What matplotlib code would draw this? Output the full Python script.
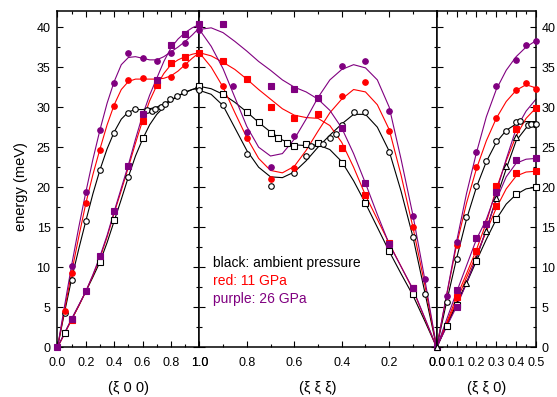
import matplotlib
matplotlib.use('Agg')
import matplotlib.pyplot as plt
from matplotlib.ticker import MultipleLocator, FormatStrFormatter

plt.rcParams['font.family'] = ['Liberation Sans', 'DejaVu Sans']

# colours for the three pressures
c_black = 'black'
c_red = '#ff0000'
c_purple = '#800080'

# ---------- (xi 0 0) ----------
grid_100 = [0.0, 0.05, 0.1, 0.15, 0.2, 0.25, 0.3, 0.35, 0.4, 0.45, 0.5,
            0.55, 0.6, 0.65, 0.7, 0.75, 0.8, 0.85, 0.9, 0.95, 1.0]
h00_blk_up = [0, 4.4, 8.6, 12.3, 15.8, 19.2, 22.2, 24.8, 26.9, 28.5, 29.4,
              29.7, 29.7, 29.8, 30.0, 30.4, 30.9, 31.4, 31.8, 32.2, 32.5]
h00_blk_lo = [0, 1.8, 3.5, 5.2, 7.0, 8.8, 10.7, 13.1, 15.8, 18.5, 21.3,
              23.9, 26.0, 27.8, 29.1, 30.0, 30.8, 31.4, 31.9, 32.2, 32.4]
h00_red_up = [0, 4.7, 9.4, 13.8, 18.0, 21.6, 24.8, 27.8, 30.3, 32.2, 33.2,
              33.5, 33.5, 33.5, 33.5, 33.6, 33.9, 34.5, 35.3, 36.1, 36.8]
h00_red_lo = [0, 1.7, 3.5, 5.2, 7.0, 9.0, 11.2, 13.8, 16.8, 19.6, 22.5,
              25.5, 28.3, 30.8, 32.7, 34.2, 35.3, 35.9, 36.3, 36.6, 36.8]
h00_pur_up = [0, 5.2, 10.3, 15.0, 19.4, 23.5, 27.2, 30.5, 33.2, 35.3, 36.2,
              36.3, 36.1, 35.9, 35.9, 36.3, 36.9, 37.5, 38.2, 39.0, 39.9]
h00_pur_lo = [0, 1.8, 3.6, 5.3, 7.0, 9.1, 11.4, 14.0, 17.0, 19.9, 22.8,
              26.0, 29.0, 31.5, 33.6, 35.7, 37.4, 38.5, 39.3, 39.9, 40.3]

h00_blk_o_x = [0.05, 0.1, 0.2, 0.3, 0.4, 0.5, 0.5, 0.55, 0.63, 0.67, 0.69, 0.73, 0.76, 0.79, 0.84, 0.89, 0.99]
h00_blk_o_y = [4.3, 8.4, 15.8, 22.1, 26.8, 29.3, 21.3, 29.75, 29.6, 29.5, 29.8, 30.0, 30.4, 31.0, 31.4, 31.9, 32.4]
h00_blk_s_x = [0.05, 0.3, 0.4, 0.6]
h00_blk_s_y = [1.8, 10.7, 15.9, 26.2]
h00_red_o_x = [0.05, 0.1, 0.2, 0.3, 0.4, 0.5, 0.6, 0.8, 0.9, 1.0]
h00_red_o_y = [4.5, 9.3, 18.0, 24.7, 30.2, 33.4, 33.6, 33.7, 35.3, 36.8]
h00_red_s_x = [0.1, 0.6, 0.7, 0.8, 0.9]
h00_red_s_y = [3.4, 28.3, 32.8, 35.5, 36.2]
h00_pur_o_x = [0.1, 0.2, 0.3, 0.4, 0.5, 0.6, 0.7, 0.8, 0.9]
h00_pur_o_y = [10.2, 19.4, 27.2, 33.0, 36.7, 36.1, 35.8, 36.7, 38.0]
h00_pur_s_x = [0.0, 0.1, 0.2, 0.3, 0.4, 0.5, 0.6, 0.7, 0.8, 0.9, 1.0]
h00_pur_s_y = [0, 3.6, 7.0, 11.4, 17.0, 22.7, 29.2, 33.4, 37.8, 39.1, 40.4]

# ---------- (xi xi xi) ----------
grid_111 = grid_100
hhh_blk_a = [0, 3.3, 6.5, 9.2, 12.0, 15.0, 18.0, 20.8, 23.2, 24.7, 25.3,
             25.2, 25.3, 25.9, 26.9, 28.1, 29.4, 30.6, 31.6, 32.3, 32.6]
hhh_blk_b = [0, 6.9, 13.8, 19.5, 24.5, 27.5, 29.1, 29.1, 27.9, 26.5, 25.0,
             23.3, 21.9, 21.2, 21.3, 22.5, 24.6, 27.4, 30.2, 31.6, 32.1]
hhh_red_a = [0, 3.6, 7.2, 10.1, 13.0, 16.0, 19.0, 22.5, 25.6, 27.7, 28.6,
             28.7, 29.0, 29.8, 31.0, 32.2, 33.5, 34.7, 35.6, 36.4, 36.8]
hhh_red_b = [0, 7.8, 15.0, 21.5, 27.2, 30.3, 31.9, 32.2, 31.0, 29.3, 27.0,
             24.6, 22.6, 21.8, 22.1, 23.6, 26.2, 29.3, 32.5, 35.0, 36.8]
hhh_pur_a = [0, 3.7, 7.3, 10.1, 12.9, 16.6, 20.5, 24.2, 27.4, 29.6, 31.0,
             31.9, 32.5, 33.4, 34.6, 35.7, 37.0, 38.2, 39.3, 39.9, 39.7]
hhh_pur_b = [0, 8.5, 16.5, 23.5, 30.0, 33.4, 34.9, 35.3, 34.7, 33.4, 31.2,
             28.5, 26.0, 24.2, 23.9, 25.0, 27.6, 31.2, 34.8, 37.6, 39.7]

hhh_blk_s_x = [1.0, 0.9, 0.8, 0.75, 0.7, 0.67, 0.63, 0.6, 0.55, 0.5, 0.4, 0.3, 0.2, 0.1]
hhh_blk_s_y = [32.6, 31.6, 29.4, 28.1, 26.8, 26.2, 25.5, 25.2, 25.4, 25.5, 23.0, 18.0, 12.0, 6.7]
hhh_blk_o_x = [1.0, 0.9, 0.8, 0.7, 0.6, 0.55, 0.53, 0.48, 0.45, 0.425, 0.4, 0.35, 0.3, 0.2, 0.1, 0.05]
hhh_blk_o_y = [32.1, 30.3, 24.2, 20.2, 21.8, 23.9, 25.1, 25.4, 26.1, 26.6, 27.8, 29.4, 29.4, 24.4, 13.8, 6.7]
hhh_red_s_x = [1.0, 0.9, 0.8, 0.7, 0.6, 0.5, 0.4, 0.3, 0.2, 0.1]
hhh_red_s_y = [36.8, 35.8, 33.5, 30.0, 28.6, 29.2, 24.9, 19.0, 13.0, 7.4]
hhh_red_o_x = [0.9, 0.8, 0.7, 0.6, 0.4, 0.3, 0.2, 0.1]
hhh_red_o_y = [32.6, 26.2, 21.0, 22.4, 31.4, 33.2, 27.0, 15.1]
hhh_pur_s_x = [1.0, 0.9, 0.7, 0.6, 0.5, 0.4, 0.3, 0.2, 0.1, 0.0]
hhh_pur_s_y = [40.4, 40.4, 32.6, 32.3, 31.2, 27.4, 20.5, 12.9, 7.4, 0]
hhh_pur_o_x = [1.0, 0.86, 0.8, 0.7, 0.6, 0.4, 0.3, 0.2, 0.1, 0.05]
hhh_pur_o_y = [39.6, 32.7, 26.9, 22.5, 26.4, 35.1, 35.8, 29.5, 16.4, 8.5]

# ---------- (xi xi 0) ----------
grid_110 = [0.0, 0.05, 0.1, 0.15, 0.2, 0.25, 0.3, 0.35, 0.4, 0.45, 0.5]
hh0_blk_top = [0, 5.7, 11.1, 16.0, 20.0, 23.2, 25.6, 27.1, 27.9, 28.2, 28.2]
hh0_blk_mid = [0, 2.8, 5.4, 8.1, 11.2, 14.7, 18.6, 22.3, 25.8, 27.4, 27.9]
hh0_blk_low = [0, 2.7, 5.4, 8.0, 10.8, 13.5, 16.0, 17.9, 19.1, 19.8, 20.0]
hh0_red_top = [0, 6.5, 12.8, 18.0, 22.3, 25.8, 28.6, 30.7, 32.1, 32.8, 32.4]
hh0_red_mid = [0, 3.1, 6.3, 9.2, 12.2, 15.6, 19.8, 23.3, 26.4, 28.6, 29.9]
hh0_red_low = [0, 2.9, 5.8, 8.7, 11.6, 14.5, 17.4, 19.8, 21.4, 21.9, 22.0]
hh0_pur_top = [0, 6.6, 13.2, 19.2, 24.3, 28.8, 32.2, 34.6, 36.3, 37.5, 38.3]
hh0_pur_mid = [0, 3.5, 6.9, 10.2, 13.5, 16.0, 19.4, 23.5, 27.3, 29.5, 31.0]
hh0_pur_low = [0, 2.6, 5.1, 8.0, 11.2, 14.8, 18.4, 21.3, 23.0, 23.5, 23.6]

hh0_blk_o_x = [0.05, 0.1, 0.15, 0.2, 0.25, 0.3, 0.35, 0.4, 0.42, 0.46, 0.475, 0.5]
hh0_blk_o_y = [5.7, 11.1, 16.3, 20.1, 23.3, 25.8, 27.05, 28.1, 28.25, 27.8, 27.9, 27.9]
hh0_blk_t_x = [0.0, 0.15, 0.2, 0.25, 0.3, 0.35, 0.4]
hh0_blk_t_y = [0, 8.0, 11.1, 14.6, 18.7, 22.6, 26.3]
hh0_blk_s_x = [0.05, 0.1, 0.2, 0.3, 0.4, 0.5]
hh0_blk_s_y = [2.7, 5.3, 10.8, 16.0, 19.1, 20.0]
hh0_red_o_x = [0.1, 0.2, 0.3, 0.4, 0.45, 0.5]
hh0_red_o_y = [12.8, 22.5, 28.6, 32.2, 33.0, 32.3]
hh0_red_s_x = [0.1, 0.2, 0.3, 0.3, 0.4, 0.4, 0.5, 0.5]
hh0_red_s_y = [6.3, 12.0, 17.65, 20.1, 27.3, 21.8, 22.0, 29.9]
hh0_pur_o_x = [0.05, 0.1, 0.2, 0.3, 0.4, 0.45, 0.5]
hh0_pur_o_y = [6.4, 13.2, 24.4, 32.6, 35.9, 37.7, 38.3]
hh0_pur_s_x = [0.1, 0.1, 0.2, 0.25, 0.3, 0.4, 0.5]
hh0_pur_s_y = [7.2, 5.1, 13.7, 15.4, 19.4, 23.4, 23.6]


def curve(ax, x, y, color):
    ax.plot(x, y, color=color, lw=0.8, zorder=2, clip_on=False)


def dots(ax, x, y, color, marker, filled=True):
    face = color if filled else 'white'
    ax.plot(x, y, ls='none', marker=marker, ms=4, mfc=face, mec=color,
            mew=0.8, zorder=3, clip_on=False)


fig = plt.figure(figsize=(5.57, 3.97), dpi=100)
bottom = 0.1247
height = 0.8476
ax1 = fig.add_axes([0.1032, bottom, 0.2546, height])
ax2 = fig.add_axes([0.3578, bottom, 0.4262, height])
ax3 = fig.add_axes([0.7840, bottom, 0.1783, height])

# panel 1
for yy, col in [(h00_blk_up, c_black), (h00_blk_lo, c_black), (h00_red_up, c_red),
                (h00_red_lo, c_red), (h00_pur_up, c_purple), (h00_pur_lo, c_purple)]:
    curve(ax1, grid_100, yy, col)
dots(ax1, h00_blk_o_x, h00_blk_o_y, c_black, 'o', False)
dots(ax1, h00_blk_s_x, h00_blk_s_y, c_black, 's', False)
dots(ax1, h00_red_o_x, h00_red_o_y, c_red, 'o')
dots(ax1, h00_red_s_x, h00_red_s_y, c_red, 's')
dots(ax1, h00_pur_o_x, h00_pur_o_y, c_purple, 'o')
dots(ax1, h00_pur_s_x, h00_pur_s_y, c_purple, 's')

# panel 2
for yy, col in [(hhh_blk_a, c_black), (hhh_blk_b, c_black), (hhh_red_a, c_red),
                (hhh_red_b, c_red), (hhh_pur_a, c_purple), (hhh_pur_b, c_purple)]:
    curve(ax2, grid_111, yy, col)
dots(ax2, hhh_blk_s_x, hhh_blk_s_y, c_black, 's', False)
dots(ax2, hhh_blk_o_x, hhh_blk_o_y, c_black, 'o', False)
dots(ax2, hhh_red_s_x, hhh_red_s_y, c_red, 's')
dots(ax2, hhh_red_o_x, hhh_red_o_y, c_red, 'o')
dots(ax2, hhh_pur_s_x, hhh_pur_s_y, c_purple, 's')
dots(ax2, hhh_pur_o_x, hhh_pur_o_y, c_purple, 'o')

# panel 3
for yy, col in [(hh0_blk_top, c_black), (hh0_blk_mid, c_black), (hh0_blk_low, c_black),
                (hh0_red_top, c_red), (hh0_red_mid, c_red), (hh0_red_low, c_red),
                (hh0_pur_top, c_purple), (hh0_pur_mid, c_purple), (hh0_pur_low, c_purple)]:
    curve(ax3, grid_110, yy, col)
dots(ax3, hh0_blk_o_x, hh0_blk_o_y, c_black, 'o', False)
dots(ax3, hh0_blk_t_x, hh0_blk_t_y, c_black, '^', False)
dots(ax3, hh0_blk_s_x, hh0_blk_s_y, c_black, 's', False)
dots(ax3, hh0_red_o_x, hh0_red_o_y, c_red, 'o')
dots(ax3, hh0_red_s_x, hh0_red_s_y, c_red, 's')
dots(ax3, hh0_pur_o_x, hh0_pur_o_y, c_purple, 'o')
dots(ax3, hh0_pur_s_x, hh0_pur_s_y, c_purple, 's')

ax1.set_xlim(0, 1.0)
ax2.set_xlim(1.0, 0)
ax3.set_xlim(0, 0.5)

for ax in (ax1, ax2, ax3):
    ax.set_ylim(0, 42)
    ax.yaxis.set_major_locator(MultipleLocator(5))
    ax.yaxis.set_minor_locator(MultipleLocator(2.5))
    ax.xaxis.set_major_formatter(FormatStrFormatter('%.1f'))
    ax.tick_params(which='both', direction='in', top=True, right=True,
                   left=True, bottom=True, width=0.8, labelsize=9)
    ax.tick_params(which='major', length=4.3)
    ax.tick_params(which='minor', length=2.2)
    ax.tick_params(axis='x', pad=7)
    ax.tick_params(axis='y', pad=5)
    for sp in ax.spines.values():
        sp.set_linewidth(1.1)

for ax in (ax1, ax2):
    ax.xaxis.set_major_locator(MultipleLocator(0.2))
    ax.xaxis.set_minor_locator(MultipleLocator(0.1))
ax3.xaxis.set_major_locator(MultipleLocator(0.1))
ax3.xaxis.set_minor_locator(MultipleLocator(0.05))

ax1.tick_params(axis='y', labelleft=True, labelright=False)
ax2.tick_params(axis='y', labelleft=False, labelright=False)
ax3.tick_params(axis='y', labelleft=False, labelright=True, pad=4)

fig.text(0.038, 0.53, 'energy (meV)', rotation=90, ha='center', va='center', fontsize=10.5)
fig.text(0.2305, 0.023, '(ξ 0 0)', ha='center', va='center', fontsize=10.5)
fig.text(0.571, 0.023, '(ξ ξ ξ)', ha='center', va='center', fontsize=10.5)
fig.text(0.8735, 0.023, '(ξ ξ 0)', ha='center', va='center', fontsize=10.5)

ax2.text(0.056, 0.252, 'black: ambient pressure', color=c_black, transform=ax2.transAxes,
         va='center', fontsize=10)
ax2.text(0.056, 0.1985, 'red: 11 GPa', color=c_red, transform=ax2.transAxes,
         va='center', fontsize=10)
ax2.text(0.056, 0.144, 'purple: 26 GPa', color=c_purple, transform=ax2.transAxes,
         va='center', fontsize=10)

plt.savefig('out.png', dpi=100)
